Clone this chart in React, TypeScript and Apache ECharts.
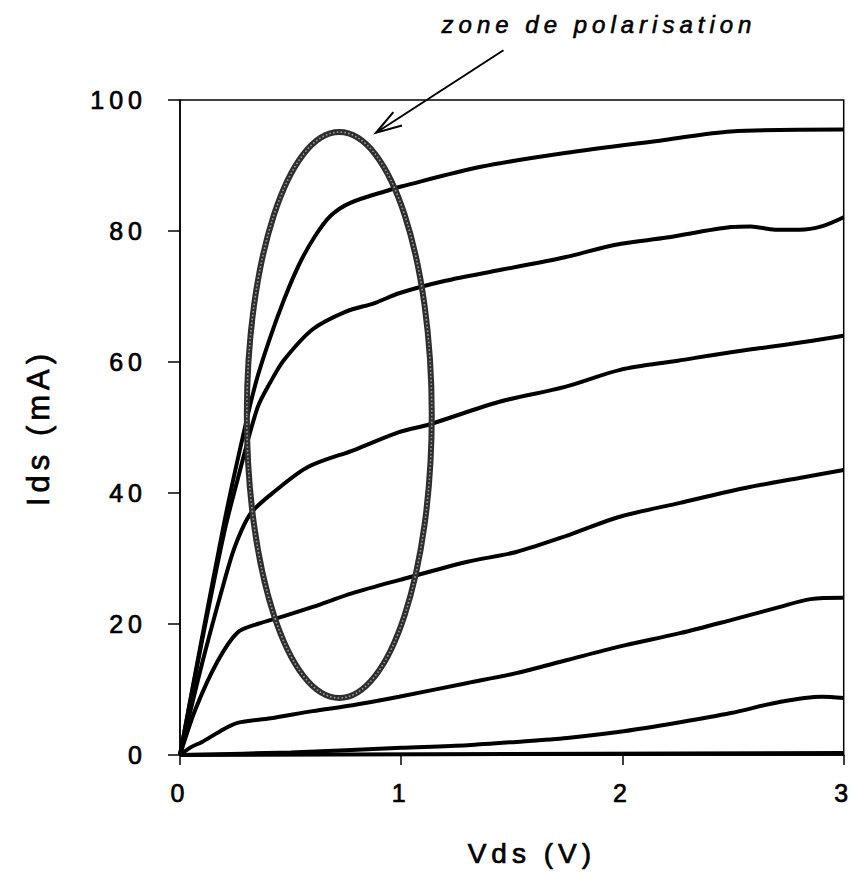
import React, { useEffect, useRef } from "react";
import * as echarts from "echarts";

// Vds (V) / Ids (mA) pairs, one array per curve
const curveA: [number, number][] = [[0,0],[0.1,18],[0.2,35.5],[0.27,46.5],[0.34,56.5],[0.4,63],[0.47,69.5],[0.54,75],[0.61,79.2],[0.68,82.3],[0.77,84.3],[0.95,86.3],[1.0,86.8],[1.36,89.8],[1.74,91.9],[2.19,93.9],[2.49,95.2],[3,95.5]];
const curveB: [number, number][] = [[0,0],[0.1,17.5],[0.2,34],[0.26,42],[0.35,53],[0.41,57],[0.47,60.3],[0.6,65],[0.75,67.7],[0.88,69],[0.99,70.5],[1.2,72.4],[1.44,74],[1.74,76],[1.97,77.9],[2.2,79],[2.49,80.6],[2.58,80.7],[2.69,80.2],[2.8,80.2],[2.9,80.7],[3,82.1]];
const curveC: [number, number][] = [[0,0],[0.1,14],[0.2,26.5],[0.25,32],[0.32,36.9],[0.43,40.3],[0.58,44],[0.79,46.6],[0.99,49.3],[1.13,50.5],[1.44,53.9],[1.74,56.2],[1.99,58.8],[2.25,60.2],[2.49,61.5],[2.75,62.7],[3,64]];
const curveD: [number, number][] = [[0,0],[0.07,7],[0.17,14.3],[0.26,18.7],[0.35,20],[0.47,21.2],[0.6,22.6],[0.78,24.7],[0.99,26.7],[1.3,29.5],[1.52,31],[1.75,33.5],[1.98,36.3],[2.26,38.5],[2.56,40.8],[2.8,42.3],[3,43.5]];
const curveE: [number, number][] = [[0,0],[0.05,1.2],[0.1,2],[0.18,3.6],[0.26,4.9],[0.41,5.6],[0.6,6.7],[0.78,7.6],[0.99,8.9],[1.3,11],[1.52,12.5],[1.75,14.5],[1.98,16.5],[2.26,18.6],[2.49,20.6],[2.7,22.5],[2.85,23.8],[3,24]];
const curveF: [number, number][] = [[0,0],[0.5,0.4],[1,1.1],[1.3,1.5],[1.52,2.0],[1.75,2.6],[1.98,3.5],[2.26,5.0],[2.49,6.4],[2.71,8.1],[2.9,8.9],[3,8.7]];
const curveG: [number, number][] = [[0,0],[3,0.3]];
const curves = [curveA, curveB, curveC, curveD, curveE, curveF, curveG];

const xTicks = [0, 1, 2, 3];
const yTicks = [0, 20, 40, 60, 80, 100];

// annotation in data units
const zoneCenter: [number, number] = [0.72, 51.9];
const zoneRadius: [number, number] = [0.418, 43.2];
const arrowFrom: [number, number] = [1.462, 107.6];
const arrowTo: [number, number] = [0.886, 95.0];
const labelAt: [number, number] = [1.894, 111.5];
const labelText = "zone de polarisation";

const FONT = '"Liberation Sans", Arial, Helvetica, sans-serif';
const INK = { textBorderColor: "#000", textBorderWidth: 0.7 };

export default function App() {
  const ref = useRef<HTMLDivElement>(null);
  useEffect(() => {
    if (!ref.current) return;
    const chart = echarts.init(ref.current, null, { renderer: "svg" });
    chart.setOption({
      animation: false,
      backgroundColor: "#fff",
      grid: { left: 180, right: 7, top: 100, bottom: 125, show: true, borderColor: "#000", borderWidth: 1.5, backgroundColor: "transparent" },
      xAxis: {
        type: "value", min: xTicks[0], max: xTicks[xTicks.length - 1], interval: 1,
        name: "Vds (V)", nameLocation: "middle", nameGap: 84,
        nameTextStyle: { fontSize: 28, color: "#000", fontFamily: FONT, padding: [0, 0, 0, 40], ...INK },
        axisLine: { lineStyle: { color: "#000", width: 1.5 } },
        axisTick: { inside: false, length: 10, lineStyle: { color: "#000", width: 1.5 } },
        axisLabel: { fontSize: 25, color: "#000", fontFamily: FONT, margin: 25, ...INK },
        splitLine: { show: false },
      },
      yAxis: {
        type: "value", min: yTicks[0], max: yTicks[yTicks.length - 1], interval: 20,
        name: "Ids (mA)", nameLocation: "middle", nameGap: 126,
        nameTextStyle: { fontSize: 31, color: "#000", fontFamily: FONT, ...INK },
        axisLine: { lineStyle: { color: "#000", width: 1.5 } },
        axisTick: { inside: false, length: 12, lineStyle: { color: "#000", width: 1.5 } },
        axisLabel: { fontSize: 25, color: "#000", fontFamily: FONT, margin: 33, ...INK },
        splitLine: { show: false },
      },
      series: curves.map((d, i) => ({
        type: "line", name: "c" + i, data: d, showSymbol: false, smooth: 0.3,
        lineStyle: { color: "#000", width: 4 }, z: 3,
      })),
    });
    const p = (v: [number, number]) => chart.convertToPixel({ gridIndex: 0 }, v) as number[];
    const c = p(zoneCenter);
    const ex = p([zoneCenter[0] + zoneRadius[0], zoneCenter[1]]);
    const ey = p([zoneCenter[0], zoneCenter[1] + zoneRadius[1]]);
    const rx = Math.abs(ex[0] - c[0]);
    const ry = Math.abs(c[1] - ey[1]);
    const a0 = p(arrowFrom);
    const a1 = p(arrowTo);
    const ang = Math.atan2(a0[1] - a1[1], a0[0] - a1[0]);
    const bl = 27, spread = 0.3;
    const b1 = [a1[0] + bl * Math.cos(ang - spread), a1[1] + bl * Math.sin(ang - spread)];
    const b2 = [a1[0] + bl * Math.cos(ang + spread), a1[1] + bl * Math.sin(ang + spread)];
    const t = p(labelAt);
    chart.setOption({
      graphic: [
        { type: "ellipse", shape: { cx: c[0], cy: c[1], rx, ry }, style: { fill: "none", stroke: "#2e2e2e", lineWidth: 6 }, z: 10 },
        { type: "ellipse", shape: { cx: c[0], cy: c[1], rx, ry }, style: { fill: "none", stroke: "#999", lineWidth: 1.6, lineDash: [1.6, 2.2] }, z: 11 },
        { type: "line", shape: { x1: a0[0], y1: a0[1], x2: a1[0], y2: a1[1] }, style: { stroke: "#000", lineWidth: 2 }, z: 10 },
        { type: "polyline", shape: { points: [b1, a1, b2] }, style: { stroke: "#000", lineWidth: 2, fill: "none" }, z: 10 },
        { type: "text", x: t[0], y: t[1], style: { text: labelText, fill: "#000", font: "italic 24px " + FONT, textAlign: "center", textVerticalAlign: "middle", stroke: "#000", lineWidth: 0.6 }, z: 10 },
      ],
    });
    return () => chart.dispose();
  }, []);
  return (
    <div
      ref={ref}
      style={{ position: "fixed", left: 0, top: 0, width: 854, height: 880, letterSpacing: "5px", background: "#fff" }}
    />
  );
}
